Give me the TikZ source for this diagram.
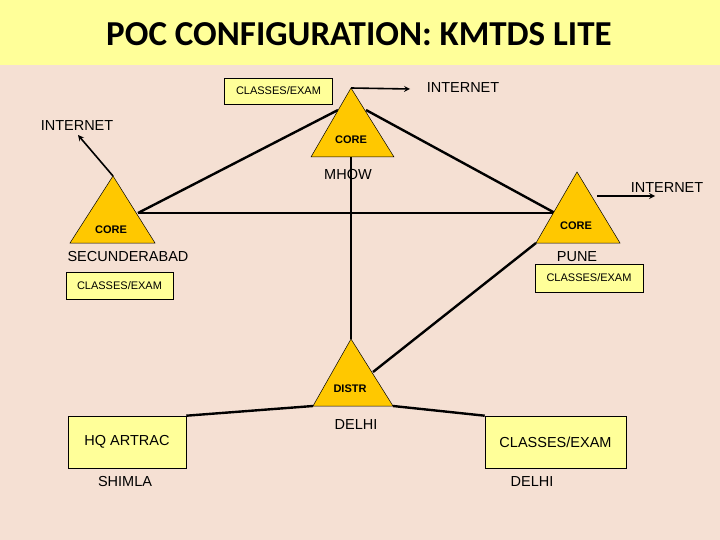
\documentclass[tikz,border=0pt]{standalone}
\usepackage{fontspec}
\setmainfont{Liberation Sans}
\newfontfamily\titlefont{Carlito}
\begin{document}
\begin{tikzpicture}[x=1pt,y=-1pt,
  tri/.style={fill=coreyellow,draw=black,line width=0.5pt},
  lnk/.style={line width=2.4pt},
  arr/.style={line width=1.6pt,-stealth},
  box/.style={draw=black,fill=boxyellow,line width=0.6pt,inner sep=0pt},
  lab/.style={font=\fontsize{14.5}{16}\selectfont},
  small/.style={font=\fontsize{11}{13}\selectfont},
  coretxt/.style={font=\fontsize{11}{13}\selectfont\bfseries}]
\definecolor{coreyellow}{HTML}{FFC800}
\definecolor{boxyellow}{HTML}{FFFF99}
\definecolor{bg}{HTML}{F5E0D3}
\definecolor{band}{HTML}{FFFF99}
\useasboundingbox (0,0) rectangle (720,540);
\fill[bg] (0,0) rectangle (720,540);
\fill[band] (0,0) rectangle (720,65);
\node (title) at (359,34) {\titlefont\bfseries\fontsize{35}{38}\selectfont POC CONFIGURATION: KMTDS LITE};
% coordinates
\coordinate (ma) at (351,88); \coordinate (ml) at (311,157); \coordinate (mr) at (394,157);
\coordinate (sa) at (113,176); \coordinate (sl) at (70,243); \coordinate (sr) at (155,243);
\coordinate (pa) at (577,172); \coordinate (pl) at (536,243); \coordinate (pr) at (620,243);
\coordinate (da) at (351,339); \coordinate (dl) at (313,406); \coordinate (dr) at (393,406);
\coordinate (mL) at (338,110); \coordinate (mR) at (366,110);
\coordinate (sR) at (138,213); \coordinate (pL) at (555,213);
\coordinate (mB) at (351,157); \coordinate (dI) at (373,372);
\coordinate (pS) at (597,196);
% boxes
\node[box,minimum width=108pt,minimum height=26pt,small] (cb1) at (278.5,91) {CLASSES/EXAM};
\node[box,minimum width=107pt,minimum height=27pt,small] (cb2) at (119.5,285.5) {CLASSES/EXAM};
\node[box,minimum width=108pt,minimum height=28pt,small] (cb3) at (589,278) {CLASSES/EXAM};
\node[box,minimum width=118pt,minimum height=52pt,lab] (hq) at (127,442) {HQ ARTRAC};
\node[box,minimum width=141pt,minimum height=52pt,lab] (cb4) at (555.5,442) {CLASSES/EXAM};
% links
\draw[lnk] (mL) -- (sR);
\draw[lnk] (mR) -- (pL);
\draw[lnk] (sR) -- (pL);
\draw[lnk] (mB) -- (da);
\draw[lnk] (pl) -- (dI);
\draw[lnk] (dl) -- (hq.north east);
\draw[lnk] (dr) -- (cb4.north west);
% triangles
\draw[tri] (ma) -- (ml) -- (mr) -- cycle;
\draw[tri] (sa) -- (sl) -- (sr) -- cycle;
\draw[tri] (pa) -- (pl) -- (pr) -- cycle;
\draw[tri] (da) -- (dl) -- (dr) -- cycle;
% internet arrows
\coordinate (i1) at (410,89); \coordinate (i2) at (78,135); \coordinate (i3) at (655,196);
\draw[arr] (ma) -- (i1);
\draw[arr] (sa) -- (i2);
\draw[arr] (pS) -- (i3);
\node[lab] (t1) at (463,88) {INTERNET};
\node[lab] (t2) at (77,126) {INTERNET};
\node[lab] (t3) at (667,188) {INTERNET};
% labels
\node[coretxt] (c1) at (351,140) {CORE};
\node[coretxt] (c2) at (111,230) {CORE};
\node[coretxt] (c3) at (576,226) {CORE};
\node[coretxt] (c4) at (350,389) {DISTR};
\node[lab] (n1) at (348,175) {MHOW};
\node[lab] (n2) at (128,257) {SECUNDERABAD};
\node[lab] (n3) at (577,257) {PUNE};
\node[lab] (n4) at (356,425) {DELHI};
\node[lab] (n5) at (125,482) {SHIMLA};
\node[lab] (n6) at (532,482) {DELHI};
\end{tikzpicture}
\end{document}
